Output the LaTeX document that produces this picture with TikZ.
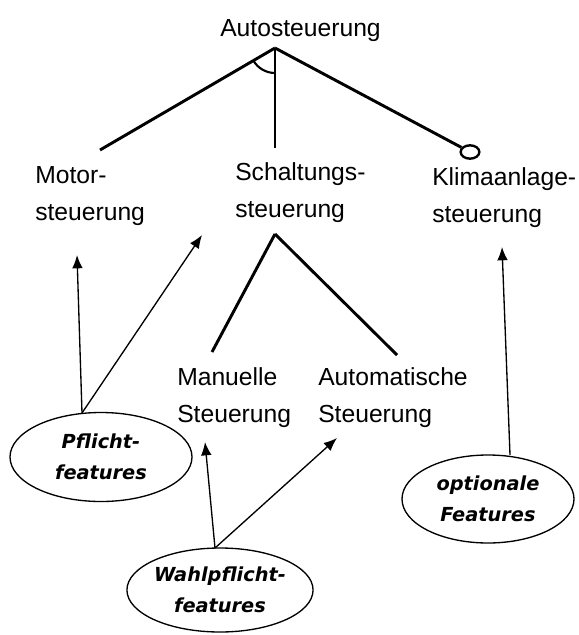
\documentclass[tikz,border=0pt]{standalone}
\usepackage{fontspec}
\setmainfont{Liberation Sans}
\newfontfamily\featfont{DejaVu Sans}
\usetikzlibrary{shapes.geometric,arrows.meta,calc}
\tikzset{
  lbl/.style={anchor=base west, inner sep=0pt, align=left, font=\fontsize{18.5}{27.75}\selectfont},
  tree/.style={line width=2.2pt},
  feat/.style={draw, ellipse, line width=1pt, inner sep=0pt, align=center,
    font=\featfont\bfseries\itshape\fontsize{14.5}{23}\selectfont},
  arr/.style={line width=1pt, -{Latex[length=10pt,width=8pt]}}
}
\begin{document}
\begin{tikzpicture}[x=0.75pt,y=-0.75pt]
\useasboundingbox (0,0) rectangle (578,635);
% text nodes (anchor = baseline of last line)
\node[lbl] (auto) at (220,37) {Autosteuerung};
\node[lbl] (motor) at (35,220) {Motor-\\steuerung};
\node[lbl] (schalt) at (235,217) {Schaltungs-\\steuerung};
\node[lbl] (klima) at (432,222) {Klimaanlage-\\steuerung};
\node[lbl] (manuell) at (177,422) {Manuelle\\Steuerung};
\node[lbl] (automat) at (318,422) {Automatische\\Steuerung};
% feature ellipses
\node[feat, minimum width=136.5pt, minimum height=66.75pt] (pf) at (101,457) {Pflicht-\\features};
\node[feat, minimum width=132pt, minimum height=63pt] (wp) at (220,590) {Wahlpflicht-\\features};
\node[feat, minimum width=129pt, minimum height=66pt] (op) at (488,499) {optionale\\Features};
% tree coordinates
\coordinate (apex) at (275,48);
\coordinate (motortop) at (100,150);
\coordinate (schalttop) at (275,148);
\node[draw, ellipse, line width=1.8pt, minimum width=14pt, minimum height=10pt, inner sep=0pt] (circ) at (470,152) {};
\coordinate (schaltbot) at (275,234);
\coordinate (manueltop) at (212,352);
\coordinate (automattop) at (397,355);
% tree lines
\draw[tree] (apex) -- (motortop);
\draw[tree] (apex) -- (schalttop);
\draw[tree] (apex) -- (circ);
\draw[line width=1.6pt] ($(apex)+(150:25)$) arc[start angle=150, end angle=90, radius=25];
\draw[tree] (schaltbot) -- (manueltop);
\draw[tree] (schaltbot) -- (automattop);
% arrow coordinates
\coordinate (pfs) at (82,413);
\coordinate (motorin) at (77,255);
\coordinate (schaltin) at (202,235);
\coordinate (wps) at (215,548);
\coordinate (manuelin) at (205,442);
\coordinate (automatin) at (337,438);
\coordinate (ops) at (510,455);
\coordinate (klimain) at (502,247);
\draw[arr] (pfs) -- (motorin);
\draw[arr] (pfs) -- (schaltin);
\draw[arr] (wps) -- (manuelin);
\draw[arr] (wps) -- (automatin);
\draw[arr] (ops) -- (klimain);
\end{tikzpicture}
\end{document}
